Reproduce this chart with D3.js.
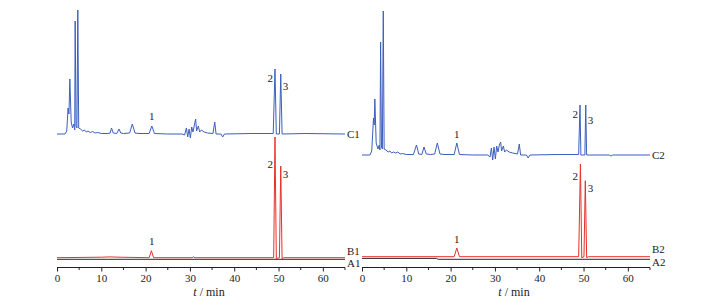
<!DOCTYPE html>
<html>
<head>
<meta charset="utf-8">
<script src="https://cdn.jsdelivr.net/npm/d3@7"></script>
<style>
  html, body { margin: 0; padding: 0; background: #fff; }
  svg { display: block; font-family: "Liberation Serif", "DejaVu Serif", serif; }
</style>
</head>
<body>
<div id="chart"></div>
<script>
// retention time (min), signal above each trace's own baseline
const traceA1 = [[0, 0], [65, 0]];
const traceB1 = [[0, 0], [10, 0.5], [12, 0.8], [14, 0.5], [20.8, 0], [21.3, 7], [21.8, 0], [30.5, 0], [30.8, 0.8], [31.1, 0],
  [48.9, 0], [49.2, 120.7], [49.5, -1], [50.2, 0], [50.5, 91.7], [50.8, -1], [51.2, 0], [65, 0]];
const traceC1 = [[0, 0], [1.8, 0], [2.2, 3], [2.5, 26], [2.7, 20], [2.9, 55], [3.2, 12], [3.5, 6], [3.8, 10], [4.0, 4],
  [4.1, 113], [4.3, 8], [4.5, 6], [4.7, 124], [4.9, 6], [5.3, 5], [5.8, 3], [6.2, 4], [6.6, 2], [7.0, 3], [7.5, 1.5],
  [8.0, 2.5], [8.6, 1], [9.2, 1.5], [10, 0.5], [11.5, 0.5], [12.0, 1], [12.3, 6], [12.7, 1], [13.5, 0.5], [14.0, 5],
  [14.4, 1], [15, 0.5], [16.4, 1], [17.0, 10], [17.6, 1], [18.5, 0.5], [20.8, 0.5], [21.4, 8], [22, 0.5], [25, 0],
  [28.2, 0], [28.8, -1], [29.2, 6], [29.5, -3], [29.8, 5], [30.1, -4], [30.4, 7], [30.7, 2], [31.0, 9], [31.3, 15],
  [31.5, 3], [31.9, 8], [32.2, 2], [32.6, 4], [33.2, 2], [34, 1], [35.2, 0.5], [35.6, 12], [35.9, 0], [37.0, 0],
  [37.4, -3], [37.8, 0], [44, 0.5], [48.8, 0.5], [49.2, 65], [49.5, 0], [50.2, 0], [50.5, 60], [50.8, 0], [56, 0.5], [65, 0]];

const traceA2 = [[0, 0.3], [16.8, 0.3], [17.2, -0.6], [65, -0.6]];
const traceB2 = [[0, 0], [20.8, 0], [21.4, 8.7], [22, 0], [48.9, 0], [49.3, 92.7], [49.6, -1], [50.1, 0], [50.4, 76],
  [50.7, -1], [51.1, 0], [65, 0]];
const traceC2 = [[0, 0], [1.8, 0], [2.2, 4], [2.6, 37], [2.75, 30], [2.9, 56], [3.2, 12], [3.6, 6], [3.9, 10], [4.05, 5],
  [4.2, 113], [4.4, 8], [4.6, 6], [4.8, 144], [5.0, 6], [5.4, 5], [5.9, 3], [6.3, 4], [6.7, 2], [7.1, 3], [7.6, 2],
  [8.1, 3], [8.6, 1], [9.2, 1.5], [10, 0.5], [11.6, 0.5], [12.3, 10], [12.8, 1], [13.5, 0.5], [14.0, 8], [14.5, 1],
  [15.5, 0.5], [16.4, 1], [17.0, 12], [17.6, 1], [18.5, 0.5], [20.8, 0.5], [21.4, 12], [22, 0.5], [25, 0], [28.4, 0],
  [28.9, -2], [29.2, 7], [29.5, -5], [29.8, 8], [30.1, -4], [30.4, 9], [30.7, 3], [31.0, 10], [31.3, 13], [31.5, 4],
  [31.9, 9], [32.2, 3], [32.6, 5], [33.2, 3], [34, 2], [35.1, 1], [35.5, 11], [35.8, 0], [37.1, 0], [37.5, -3],
  [37.9, 0], [44, 0.5], [48.9, 0.5], [49.2, 50], [49.4, 0], [50.3, 0], [50.5, 50], [50.7, 0], [55.8, 0], [56.2, -1],
  [56.6, 0], [65, 0]];

const peakNumbers = ['1', '2', '3'];
const peakTimesLeft = [21.4, 49.2, 50.5];
const peakTimesRight = [21.4, 49.2, 50.5];
const xTicks = [0, 10, 20, 30, 40, 50, 60];
const xMinorTicks = [5, 15, 25, 35, 45, 55, 65];
const xTitle = 'min';

// ---- layout ----
const W = 708, H = 298;
const axisY = 267.5;
const colors = { A: '#2a2a2a', B: '#e8302a', C: '#3d5fbd' };

const panels = [
  { x0: 57, x1: 345, suffix: '1', traces: { A: traceA1, B: traceB1, C: traceC1 },
    offsets: { A: 8.2, B: 9.8, C: 133.5 }, nameDy: { A: 4, B: -6.5, C: 0 },
    peaks: peakTimesLeft,
    labelDy: { B: [-10, 27, 8], C: [-10, 9, 12] } },
  { x0: 362, x1: 650, suffix: '2', traces: { A: traceA2, B: traceB2, C: traceC2 },
    offsets: { A: 8.8, B: 10.8, C: 112.5 }, nameDy: { A: 3, B: -7.5, C: 0 },
    peaks: peakTimesRight,
    labelDy: { B: [-9, 12, 7], C: [-9, 9, 15] } }
];

const svg = d3.select('#chart').append('svg')
  .attr('width', W)
  .attr('height', H);

const y = d3.scaleLinear().domain([0, 260]).range([axisY, axisY - 260]);

panels.forEach(p => {
  const x = d3.scaleLinear().domain([0, 65]).range([p.x0, p.x1]);
  const g = svg.append('g');

  const line = d3.line()
    .x(d => x(d[0]))
    .y(d => y(d[1]));

  ['A', 'C', 'B'].forEach(k => {
    const off = p.offsets[k];
    const data = p.traces[k].map(d => [d[0], d[1] + off]);
    g.append('path')
      .datum(data)
      .attr('fill', 'none')
      .attr('stroke', colors[k])
      .attr('stroke-width', 1)
      .attr('stroke-linejoin', 'round')
      .attr('d', line);

    g.append('text')
      .attr('x', p.x1 + 2)
      .attr('y', y(off) + p.nameDy[k])
      .attr('dy', '0.35em')
      .attr('font-size', 11)
      .attr('fill', '#222')
      .text(k + p.suffix);
  });

  // peak numbers
  ['B', 'C'].forEach(k => {
    const data = p.traces[k];
    p.peaks.forEach((t, i) => {
      const apex = d3.least(data, d => Math.abs(d[0] - t));
      const top = y(apex[1] + p.offsets[k]);
      let tx = x(t), anchor = 'middle';
      if (i === 1) { tx = x(t) - 2; anchor = 'end'; }
      if (i === 2) { tx = x(t) + 2; anchor = 'start'; }
      g.append('text')
        .attr('x', tx)
        .attr('y', top + p.labelDy[k][i])
        .attr('dy', '0.35em')
        .attr('text-anchor', anchor)
        .attr('font-size', 11)
        .attr('fill', '#222')
        .text(peakNumbers[i]);
    });
  });

  // x axis
  const axis = g.append('g')
    .attr('transform', `translate(0,${axisY})`)
    .call(d3.axisBottom(x).tickValues(xTicks).tickSize(4).tickPadding(2.5).tickFormat(d3.format('d')));
  axis.select('.domain').attr('d', `M${p.x0},0H${p.x1}`).attr('stroke', '#222');
  axis.selectAll('.tick line').attr('stroke', '#222');
  axis.selectAll('.tick text')
    .attr('font-family', '"Liberation Serif", serif')
    .attr('font-size', 11)
    .attr('fill', '#222');
  axis.selectAll('.minor')
    .data(xMinorTicks)
    .enter().append('line')
    .attr('class', 'minor')
    .attr('x1', d => x(d)).attr('x2', d => x(d))
    .attr('y1', 0).attr('y2', 2.5)
    .attr('stroke', '#222');

  const title = g.append('text')
    .attr('x', (p.x0 + p.x1) / 2 + 8)
    .attr('y', 296)
    .attr('text-anchor', 'middle')
    .attr('font-size', 12)
    .attr('fill', '#222');
  title.append('tspan').attr('font-style', 'italic').text('t');
  title.append('tspan').text(' / ' + xTitle);
});
</script>
</body>
</html>
